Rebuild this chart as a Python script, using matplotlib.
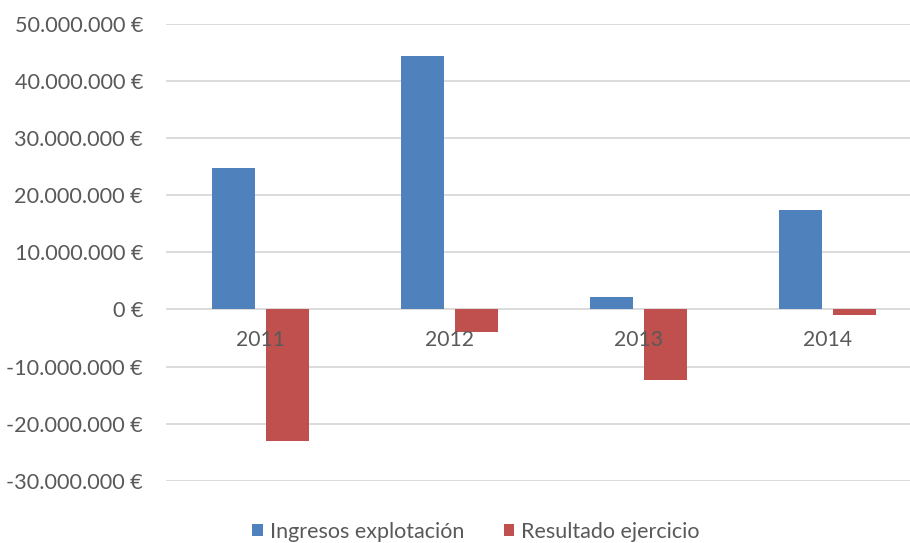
import numpy as np
import matplotlib
matplotlib.use("Agg")
from matplotlib import pyplot as plt
from matplotlib.ticker import FuncFormatter

years = ["2011", "2012", "2013", "2014"]
ingresos = [24.7e6, 44.4e6, 2.2e6, 17.4e6]
resultado = [-23.0e6, -4.0e6, -12.3e6, -1.0e6]
series_names = ["Ingresos explotación", "Resultado ejercicio"]
yticks = [-30e6, -20e6, -10e6, 0, 10e6, 20e6, 30e6, 40e6, 50e6]

blue = "#4f81bd"
red = "#c0504d"
txt = "#595959"
grid = "#d9d9d9"

plt.rcParams["font.family"] = ["Lato", "DejaVu Sans"]

fig = plt.figure(figsize=(9.1, 5.43), dpi=100)
ax = fig.add_axes([166/910, 1 - 480.7/543, 756/910, 456.7/543])

x = np.arange(len(years))
w = 0.227
off = 0.142
ax.bar(x - off, ingresos, w, color=blue, label=series_names[0], zorder=3)
ax.bar(x + off, resultado, w, color=red, label=series_names[1], zorder=3)

ax.set_xlim(-0.5, len(years) - 0.5)
ax.set_ylim(-30e6, 50e6)
ax.set_yticks(yticks)

def euros(v, pos):
    if v == 0:
        return "0 €"
    s = f"{abs(int(round(v))):,}".replace(",", ".")
    return ("-" if v < 0 else "") + s + " €"

ax.yaxis.set_major_formatter(FuncFormatter(euros))
ax.tick_params(axis="y", length=0, pad=16.5, labelsize=15.6, labelcolor=txt)
ax.grid(axis="y", color=grid, lw=1.3, zorder=0)
ax.set_xticks([])
for s in ax.spines.values():
    s.set_visible(False)

# category labels sit just under the zero line, over the bars
for i, yr in enumerate(years):
    ax.text(i, -5.4e6, yr, ha="center", va="center", fontsize=15.2, color=txt, zorder=4)

fig.legend(loc="center", bbox_to_anchor=(476/910, 1 - 532/543), ncol=2, frameon=False,
           fontsize=15.5, labelcolor=txt, handlelength=0.47, handleheight=0.47,
           handletextpad=0.33, columnspacing=1.85)

fig.savefig("out.png", dpi=100)
